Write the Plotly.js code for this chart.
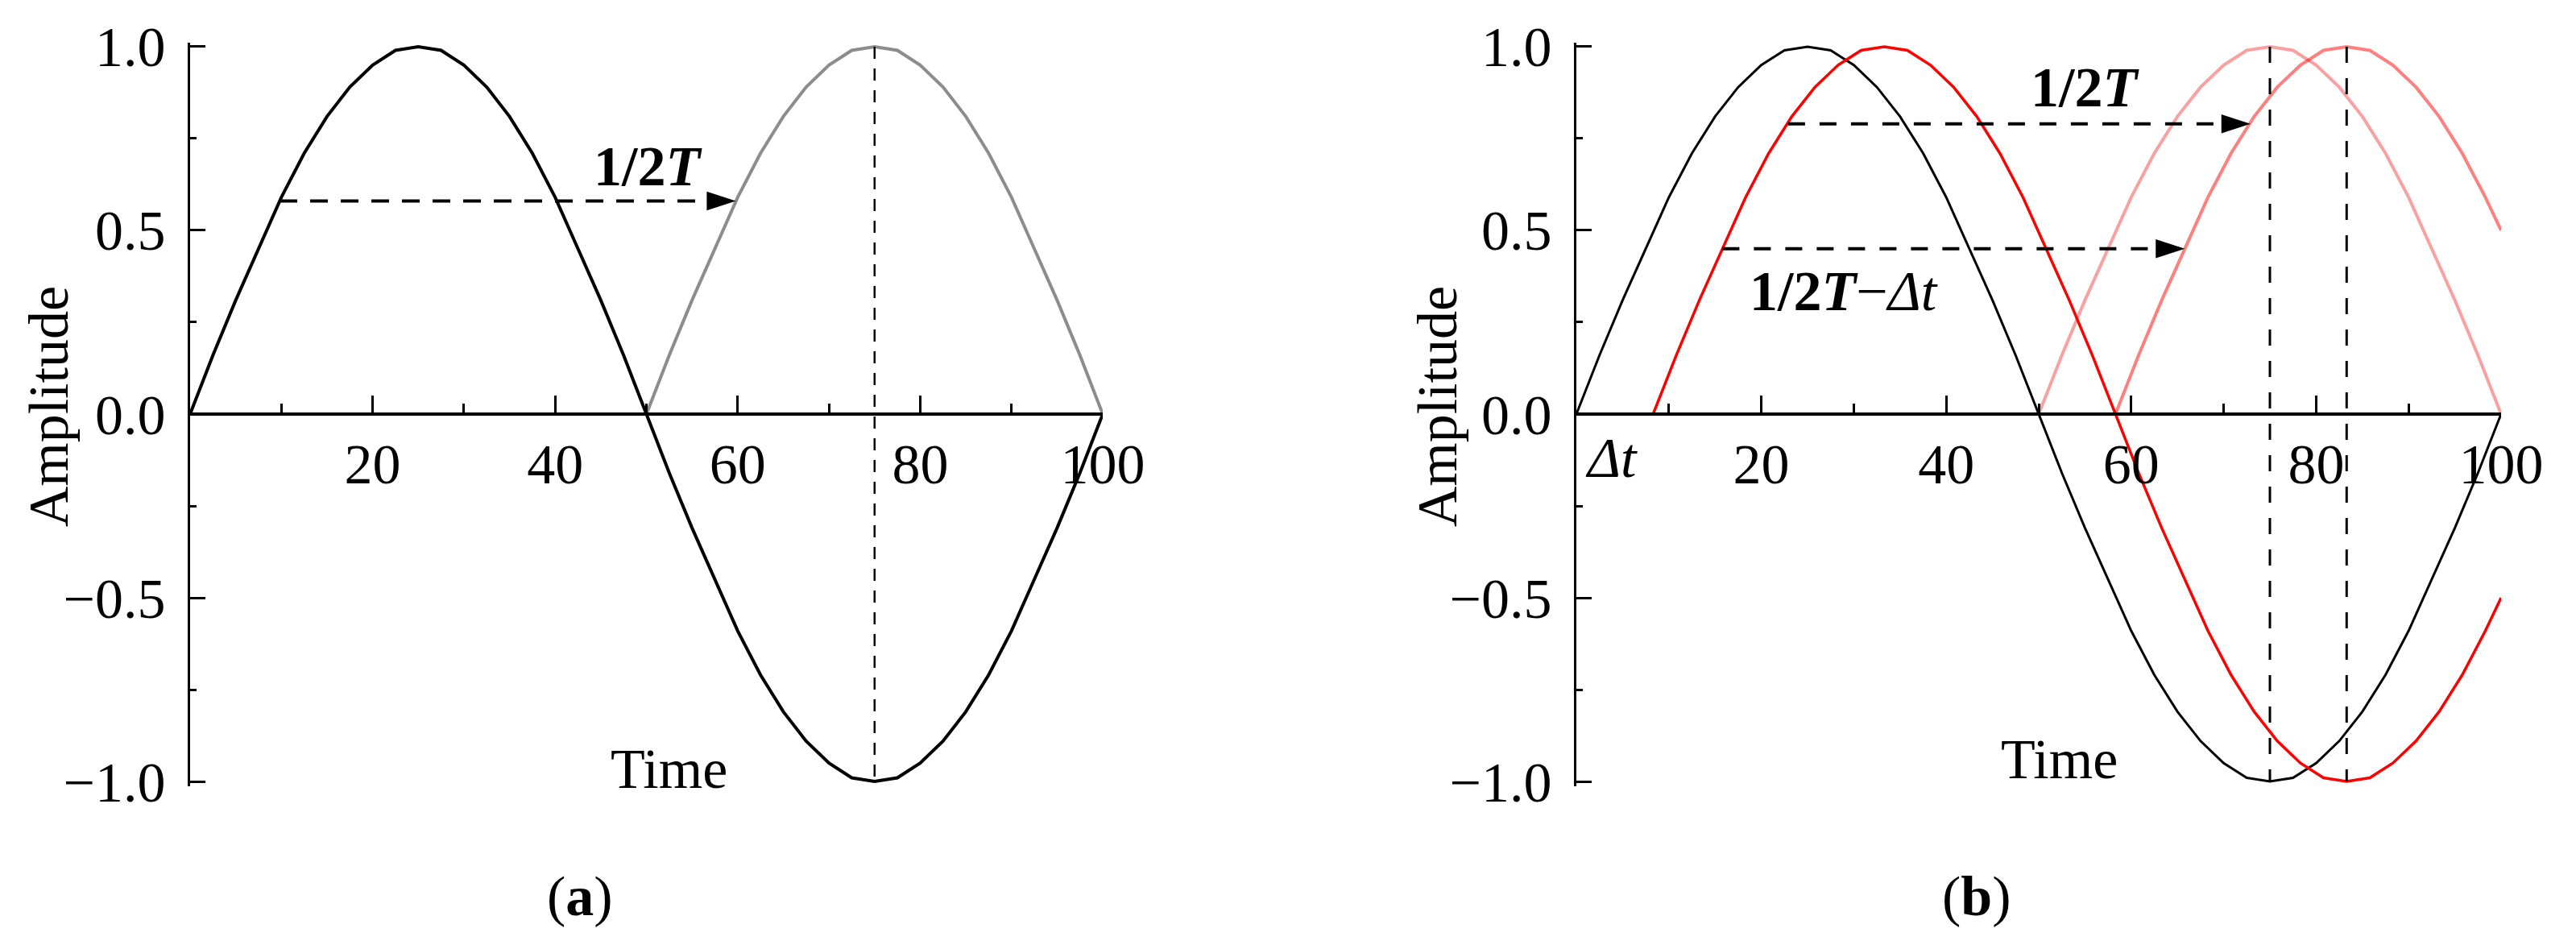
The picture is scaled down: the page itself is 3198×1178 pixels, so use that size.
<!DOCTYPE html>
<html>
<head>
<meta charset="utf-8">
<script src="https://cdn.plot.ly/plotly-3.0.1.min.js"></script>
<style>html,body{margin:0;padding:0;background:#fff;}</style>
</head>
<body>
<div id="chart" style="width:3198px;height:1178px;"></div>
<script>
// ---------- data ----------
// common time grid (step 2.5)
const timeFull = [0,2.5,5,7.5,10,12.5,15,17.5,20,22.5,25,27.5,30,32.5,35,37.5,40,42.5,45,47.5,50,52.5,55,57.5,60,62.5,65,67.5,70,72.5,75,77.5,80,82.5,85,87.5,90,92.5,95,97.5,100];
const blackAmp = [0,0.16,0.31,0.45,0.59,0.71,0.81,0.89,0.95,0.99,1.00,0.99,0.95,0.89,0.81,0.71,0.59,0.45,0.31,0.16,0,-0.16,-0.31,-0.45,-0.59,-0.71,-0.81,-0.89,-0.95,-0.99,-1.00,-0.99,-0.95,-0.89,-0.81,-0.71,-0.59,-0.45,-0.31,-0.16,0];

// panel (a) grey half wave
const timeHalf = [50,52.5,55,57.5,60,62.5,65,67.5,70,72.5,75,77.5,80,82.5,85,87.5,90,92.5,95,97.5,100];
const greyAmp = [0,0.16,0.31,0.45,0.59,0.71,0.81,0.89,0.95,0.99,1.00,0.99,0.95,0.89,0.81,0.71,0.59,0.45,0.31,0.16,0];

// panel (b) red (shifted by Δt)
const timeRed = [8.3,10.8,13.3,15.8,18.3,20.8,23.3,25.8,28.3,30.8,33.3,35.8,38.3,40.8,43.3,45.8,48.3,50.8,53.3,55.8,58.3,60.8,63.3,65.8,68.3,70.8,73.3,75.8,78.3,80.8,83.3,85.8,88.3,90.8,93.3,95.8,98.3,100];
const redAmp = [0,0.16,0.31,0.45,0.59,0.71,0.81,0.89,0.95,0.99,1.00,0.99,0.95,0.89,0.81,0.71,0.59,0.45,0.31,0.16,0,-0.16,-0.31,-0.45,-0.59,-0.71,-0.81,-0.89,-0.95,-0.99,-1.00,-0.99,-0.95,-0.89,-0.81,-0.71,-0.59,-0.50];

// panel (b) light-red half waves
const timePink1 = timeHalf;
const pink1Amp = greyAmp;
const timePink2 = [58.3,60.8,63.3,65.8,68.3,70.8,73.3,75.8,78.3,80.8,83.3,85.8,88.3,90.8,93.3,95.8,98.3,100];
const pink2Amp = [0,0.16,0.31,0.45,0.59,0.71,0.81,0.89,0.95,0.99,1.00,0.99,0.95,0.89,0.81,0.71,0.59,0.50];

// guide lines
const vlineA_X = [75,75];
const vlineB1_X = [75,75];
const vlineB2_X = [83.3,83.3];
const vlineY = [1,-1];
const arrowA_X = [9.8,59.8], arrowA_Y = [0.58,0.58];
const arrowB1_X = [22.9,72.9], arrowB1_Y = [0.79,0.79];
const arrowB2_X = [15.8,65.8], arrowB2_Y = [0.45,0.45];

// ticks
const xTickVals = [20,40,60,80,100];
const xTickText = ['20','40','60','80','100'];
const xMinorVals = [10,30,50,70,90];
const yTickVals = [-1,-0.5,0,0.5,1];
const yTickText = ['\u22121.0','\u22120.5','0.0','0.5','1.0'];
const yMinorVals = [-0.75,-0.25,0.25,0.75];

// ---------- drawing ----------
const FONT = 'Liberation Serif, Times New Roman, serif';
const W = 3198, H = 1178;

function line(x, y, color, width, xa, ya, dash) {
  return {x: x, y: y, xaxis: xa, yaxis: ya, mode: 'lines', type: 'scatter',
          line: {color: color, width: width, dash: dash || 'solid'}, hoverinfo: 'skip', showlegend: false};
}
function head(x, y, xa, ya) {
  return {x: [x[x.length-1]], y: [y[y.length-1]], xaxis: xa, yaxis: ya, mode: 'markers', type: 'scatter',
          marker: {symbol: 'arrow', angle: 90, size: 38, color: 'black', line: {width: 0}},
          cliponaxis: false, hoverinfo: 'skip', showlegend: false};
}

const traces = [
  // (a)
  line(timeFull, blackAmp, '#000000', 4, 'x', 'y'),
  line(timeHalf, greyAmp, '#8c8c8c', 4, 'x', 'y'),
  line(vlineA_X, vlineY, '#000000', 2.5, 'x', 'y', '15px,12px'),
  line(arrowA_X, arrowA_Y, '#000000', 4, 'x', 'y', '22px,16px'),
  head(arrowA_X, arrowA_Y, 'x', 'y'),
  // (b)
  line(timePink1, pink1Amp, 'rgba(240,0,0,0.37)', 4, 'x2', 'y2'),
  line(timePink2, pink2Amp, 'rgba(255,0,0,0.5)', 4, 'x2', 'y2'),
  line(timeFull, blackAmp, '#000000', 3, 'x2', 'y2'),
  line(timeRed, redAmp, '#ff0000', 3.5, 'x2', 'y2'),
  line(vlineB1_X, vlineY, '#000000', 3, 'x2', 'y2', '20px,19px'),
  line(vlineB2_X, vlineY, '#000000', 3, 'x2', 'y2', '20px,19px'),
  line(arrowB1_X, arrowB1_Y, '#000000', 4, 'x2', 'y2', '21px,18px'),
  head(arrowB1_X, arrowB1_Y, 'x2', 'y2'),
  line(arrowB2_X, arrowB2_Y, '#000000', 4, 'x2', 'y2', '21px,18px'),
  head(arrowB2_X, arrowB2_Y, 'x2', 'y2')
];

const yTop = 52.5, yBot = 975.5;
const yDom = [1 - yBot / H, 1 - yTop / H];
const zeroPos = (yDom[0] + yDom[1]) / 2;

function xAxis(dom) {
  return {domain: dom, range: [0, 100], anchor: 'free', position: zeroPos,
    showline: true, linecolor: '#000', linewidth: 4, zeroline: false, showgrid: false,
    ticks: 'inside', ticklen: 21, tickwidth: 3, tickcolor: '#000',
    tickmode: 'array', tickvals: xTickVals, ticktext: xTickText,
    minor: {tickmode: 'array', tickvals: xMinorVals, ticks: 'inside', ticklen: 11, tickwidth: 3, tickcolor: '#000', showgrid: false},
    ticklabelstandoff: 0,
    tickfont: {family: FONT, size: 70, color: '#000'}, fixedrange: true};
}
function yAxis(anchor) {
  return {domain: yDom, range: [-1.012, 1.012], anchor: anchor,
    showline: true, linecolor: '#000', linewidth: 3.5, zeroline: false, showgrid: false,
    ticks: 'inside', ticklen: 19, tickwidth: 3, tickcolor: '#000',
    tickmode: 'array', tickvals: yTickVals, ticktext: yTickText,
    minor: {tickmode: 'array', tickvals: yMinorVals, ticks: 'inside', ticklen: 8, tickwidth: 3, tickcolor: '#000', showgrid: false},
    ticklabelstandoff: 13,
    tickfont: {family: FONT, size: 70, color: '#000'}, fixedrange: true};
}

function txt(text, x, y, xref, yref, extra) {
  return Object.assign({text: text, x: x, y: y, xref: xref, yref: yref, showarrow: false,
    xanchor: 'center', yanchor: 'middle', font: {family: FONT, size: 70, color: '#000'}}, extra || {});
}

const annotations = [
  txt('<b>1/2<i>T</i></b>', 50.2, 0.675, 'x', 'y'),
  txt('Time', 52.5, -0.965, 'x', 'y'),
  txt('Amplitude', 60 / W, 0.571, 'paper', 'paper', {textangle: -90}),
  txt('(<b>a</b>)', 720 / W, 1 - 1112 / H, 'paper', 'paper'),
  txt('<b>1/2<i>T</i></b>', 55.0, 0.89, 'x2', 'y2'),
  txt('<b>1/2<i>T</i></b>\u2212<i>\u0394t</i>', 28.9, 0.335, 'x2', 'y2'),
  txt('<i>\u0394t</i>', 3.8, -0.12, 'x2', 'y2'),
  txt('Time', 52.2, -0.94, 'x2', 'y2'),
  txt('Amplitude', 1784 / W, 0.571, 'paper', 'paper', {textangle: -90}),
  txt('(<b>b</b>)', 2454 / W, 1 - 1112 / H, 'paper', 'paper')
];

const layout = {
  width: W, height: H,
  margin: {l: 0, r: 0, t: 0, b: 0, pad: 0},
  paper_bgcolor: '#fff', plot_bgcolor: '#fff',
  showlegend: false,
  font: {family: FONT, size: 70, color: '#000'},
  xaxis: xAxis([236 / W, 1369 / W]),
  yaxis: yAxis('x'),
  xaxis2: xAxis([1957 / W, 3105 / W]),
  yaxis2: yAxis('x2'),
  annotations: annotations
};

Plotly.newPlot('chart', traces, layout, {displayModeBar: false, staticPlot: true});
</script>
</body>
</html>
